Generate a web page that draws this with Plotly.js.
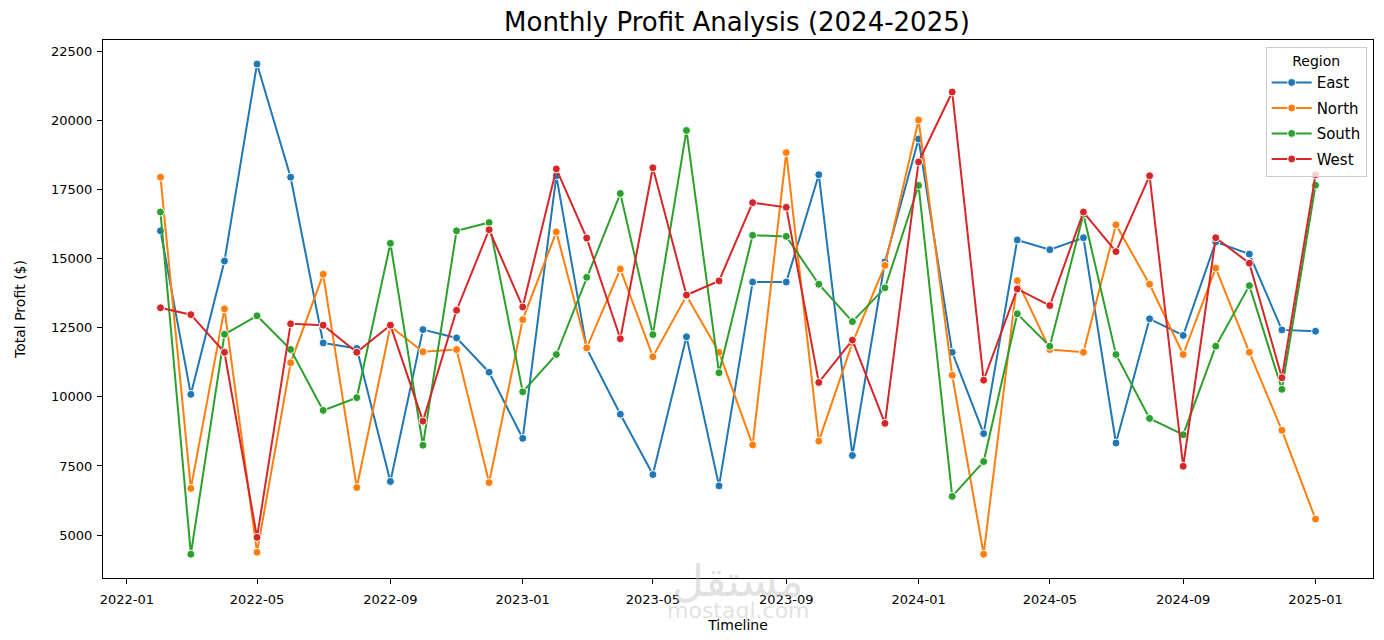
<!DOCTYPE html>
<html>
<head>
<meta charset="utf-8">
<script src="https://cdn.plot.ly/plotly-3.0.1.min.js"></script>
<style>
  html, body { margin: 0; padding: 0; background: #ffffff; }
  #chart { width: 1384px; height: 640px; }
</style>
</head>
<body>
<div id="chart"></div>
<script>
const months = [
  "2022-02-01","2022-03-01","2022-04-01","2022-05-01","2022-06-01","2022-07-01",
  "2022-08-01","2022-09-01","2022-10-01","2022-11-01","2022-12-01","2023-01-01",
  "2023-02-01","2023-03-01","2023-04-01","2023-05-01","2023-06-01","2023-07-01",
  "2023-08-01","2023-09-01","2023-10-01","2023-11-01","2023-12-01","2024-01-01",
  "2024-02-01","2024-03-01","2024-04-01","2024-05-01","2024-06-01","2024-07-01",
  "2024-08-01","2024-09-01","2024-10-01","2024-11-01","2024-12-01","2025-01-01"
];

const east = [
  16000, 10090, 14910, 22030, 17940, 11950, 11750, 6940, 12430, 12130, 10890, 8500,
  17990, 11750, 9370, 7190, 12170, 6780, 14150, 14150, 18030, 7880, 14880, 19320,
  11610, 8670, 15670, 15320, 15750, 8330, 12820, 12220, 15600, 15160, 12420, 12370
];
const north = [
  17940, 6690, 13180, 4380, 11230, 14430, 6720, 12550, 11630, 11710, 6900, 12790,
  15960, 11770, 14620, 11450, 13650, 11610, 8260, 18830, 8400, 11950, 14750, 20010,
  10780, 4310, 14200, 11710, 11610, 16220, 14070, 11530, 14650, 11610, 8790, 5580
];
const south = [
  16680, 4310, 12260, 12930, 11710, 9510, 9970, 15550, 8250, 16000, 16300, 10180,
  11530, 14320, 17350, 12250, 19630, 10870, 15840, 15800, 14070, 12720, 13940, 17640,
  6400, 7660, 13000, 11830, 16600, 11530, 9220, 8630, 11830, 14020, 10270, 17650
];
const west = [
  13220, 12970, 11610, 4920, 12640, 12590, 11610, 12590, 9120, 13130, 16040, 13250,
  18240, 15740, 12100, 18280, 13680, 14190, 17020, 16850, 10520, 12050, 9040, 18490,
  21020, 10600, 13900, 13300, 16680, 15250, 17990, 7490, 15750, 14830, 10690, 18030
];

const regionNames = ["East", "North", "South", "West"];
const regionValues = [east, north, south, west];
const regionColors = ["#1f77b4", "#ff7f0e", "#2ca02c", "#d62728"];

const traces = regionNames.map((name, i) => ({
  type: "scatter",
  mode: "lines+markers",
  name: name,
  legendgroup: name,
  x: months,
  y: regionValues[i],
  line: { color: regionColors[i], width: 2 },
  marker: { color: regionColors[i], size: 8, line: { color: "#ffffff", width: 1 } }
}));

const font = "DejaVu Sans, sans-serif";

const layout = {
  width: 1384,
  height: 640,
  paper_bgcolor: "#ffffff",
  plot_bgcolor: "#ffffff",
  margin: { l: 103, r: 11, t: 40, b: 62, pad: 0 },
  font: { family: font, size: 13, color: "#000000" },
  title: {
    text: "Monthly Profit Analysis (2024-2025)",
    font: { family: font, size: 26, color: "#000000" },
    x: 0.5325, xanchor: "center", y: 0.966, yanchor: "middle"
  },
  showlegend: true,
  legend: {
    title: { text: "Region", side: "top center", font: { family: font, size: 14 } },
    x: 0.995, xanchor: "right", y: 0.987, yanchor: "top",
    bgcolor: "rgba(255,255,255,0.8)",
    bordercolor: "#cccccc", borderwidth: 1,
    font: { family: font, size: 15 },
    tracegroupgap: 3, itemwidth: 40
  },
  xaxis: {
    type: "date",
    range: ["2021-12-10", "2025-02-23"],
    tick0: "2022-01-01",
    dtick: "M4",
    tickformat: "%Y-%m",
    ticks: "outside", ticklen: 5, tickwidth: 1, tickcolor: "#000000",
    ticklabelstandoff: 4,
    showgrid: false, zeroline: false,
    showline: true, linecolor: "#000000", linewidth: 1, mirror: true,
    tickfont: { family: font, size: 13, color: "#000000" },
    title: { text: "Timeline", font: { family: font, size: 14, color: "#000000" }, standoff: 14 }
  },
  yaxis: {
    range: [3450, 22900],
    tick0: 5000,
    dtick: 2500,
    tickformat: "d",
    ticks: "outside", ticklen: 5, tickwidth: 1, tickcolor: "#000000",
    ticklabelstandoff: 2,
    showgrid: false, zeroline: false,
    showline: true, linecolor: "#000000", linewidth: 1, mirror: true,
    tickfont: { family: font, size: 13, color: "#000000" },
    title: { text: "Total Profit ($)", font: { family: font, size: 14, color: "#000000" }, standoff: 22 }
  },
  annotations: [
    {
      text: "مستقل", xref: "paper", yref: "paper", x: 0.5, y: -0.005,
      xanchor: "center", yanchor: "middle", showarrow: false,
      font: { family: "DejaVu Sans, sans-serif", size: 44, color: "rgba(190,190,190,0.45)" }
    },
    {
      text: "mostaql.com", xref: "paper", yref: "paper", x: 0.5, y: -0.06,
      xanchor: "center", yanchor: "middle", showarrow: false,
      font: { family: "DejaVu Sans, sans-serif", size: 22, color: "rgba(190,190,190,0.45)" }
    }
  ]
};

Plotly.newPlot("chart", traces, layout, { displayModeBar: false, responsive: false });
</script>
</body>
</html>
